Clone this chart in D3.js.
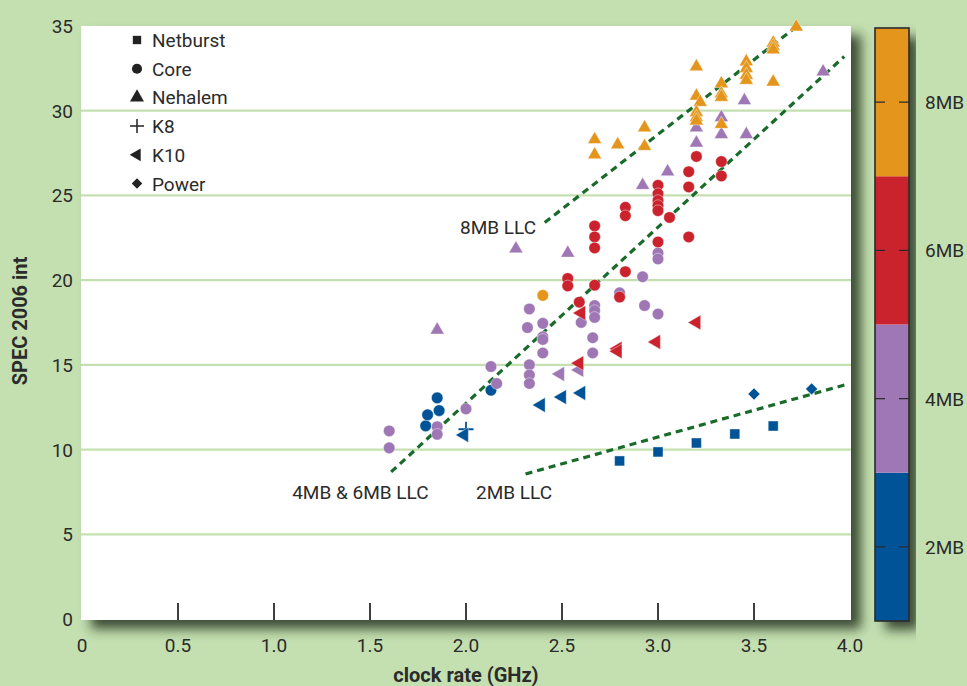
<!DOCTYPE html>
<html>
<head>
<meta charset="utf-8">
<script src="https://cdn.jsdelivr.net/npm/d3@7"></script>
<style>
  body { margin: 0; background: #c4e0b1; }
  svg { display: block; font-family: Roboto, "DejaVu Sans", sans-serif; }
</style>
</head>
<body>
<svg id="chart" width="967" height="686"></svg>
<script>
// [clock GHz, SPEC int, LLC MB]
const netburst = [[2.8, 9.33, 2], [3.0, 9.86, 2], [3.2, 10.39, 2], [3.4, 10.92, 2], [3.6, 11.39, 2]]
const core = [
  [1.79, 11.4, 2], [1.8, 12.05, 2], [1.86, 12.3, 2], [1.85, 13.05, 2], [2.13, 13.5, 2],
  [1.6, 11.1, 4], [1.6, 10.1, 4], [1.85, 11.35, 4], [1.85, 10.9, 4], [2.0, 12.4, 4],
  [2.13, 14.9, 4], [2.16, 13.9, 4], [2.33, 18.3, 4], [2.32, 17.2, 4], [2.33, 15.0, 4],
  [2.33, 14.4, 4], [2.33, 13.9, 4], [2.4, 17.45, 4], [2.4, 16.65, 4], [2.4, 16.5, 4],
  [2.4, 15.7, 4], [2.6, 17.5, 4], [2.67, 18.5, 4], [2.67, 18.2, 4], [2.67, 17.8, 4],
  [2.66, 16.6, 4], [2.66, 15.7, 4], [2.8, 19.25, 4], [2.92, 20.2, 4], [2.93, 18.5, 4],
  [3.0, 18.0, 4], [3.0, 21.6, 4], [3.0, 21.25, 4],
  [2.53, 20.1, 6], [2.53, 19.66, 6], [2.59, 18.7, 6], [2.67, 19.7, 6], [2.8, 19.0, 6],
  [2.83, 20.5, 6], [2.67, 23.2, 6], [2.67, 22.55, 6], [2.67, 21.9, 6], [2.83, 24.3, 6],
  [2.83, 23.8, 6], [3.0, 25.6, 6], [3.0, 25.1, 6], [3.0, 24.7, 6], [3.0, 24.4, 6],
  [3.0, 24.1, 6], [3.0, 22.25, 6], [3.06, 23.7, 6], [3.16, 26.4, 6], [3.16, 25.5, 6],
  [3.16, 22.55, 6], [3.2, 27.3, 6], [3.33, 27.0, 6], [3.33, 26.15, 6],
  [2.4, 19.1, 8]
]
const nehalem = [
  [1.85, 17.06, 4], [2.26, 21.85, 4], [2.53, 21.6, 4], [2.92, 25.6, 4], [3.05, 26.4, 4],
  [3.2, 28.1, 4], [3.2, 29.0, 4], [3.33, 29.6, 4], [3.33, 28.6, 4], [3.46, 28.6, 4],
  [3.45, 30.6, 4], [3.86, 32.3, 4],
  [2.67, 28.3, 8], [2.67, 27.4, 8], [2.79, 28.0, 8], [2.93, 29.0, 8], [2.93, 27.9, 8],
  [3.2, 32.6, 8], [3.2, 30.87, 8], [3.22, 30.5, 8], [3.2, 29.9, 8], [3.2, 29.6, 8],
  [3.2, 29.4, 8], [3.33, 31.6, 8], [3.33, 31.0, 8], [3.33, 30.8, 8], [3.33, 29.2, 8],
  [3.46, 32.9, 8], [3.46, 32.5, 8], [3.46, 32.1, 8], [3.46, 31.8, 8], [3.6, 34.0, 8],
  [3.6, 33.8, 8], [3.6, 33.6, 8], [3.6, 31.7, 8], [3.72, 34.95, 8]
]
const k8 = [[2.0, 11.2, 2]]
const k10 = [
  [1.99, 10.86, 2], [2.39, 12.63, 2], [2.5, 13.1, 2], [2.6, 13.34, 2],
  [2.49, 14.46, 4], [2.59, 14.7, 4],
  [2.59, 15.1, 6], [2.6, 18.06, 6], [2.79, 15.95, 6], [2.79, 15.8, 6], [2.99, 16.35, 6], [3.2, 17.5, 6]
]
const power = [[3.5, 13.28, 2], [3.8, 13.58, 2]]

const familyNames = ['Netburst', 'Core', 'Nehalem', 'K8', 'K10', 'Power']
const xTicks = [0.5, 1.0, 1.5, 2.0, 2.5, 3.0, 3.5]
const xLabels = [0, 0.5, 1.0, 1.5, 2.0, 2.5, 3.0, 3.5, 4.0]
const yTicks = [0, 5, 10, 15, 20, 25, 30, 35]
const cacheBands = [[1, 3], [3, 5], [5, 7], [7, 9]]
const cacheTicks = [2, 4, 6, 8]
const cacheColors = ['#005396', '#9e77b4', '#cb232d', '#e3961b']

// LLC trend lines
const trendNames = ['8MB LLC', '4MB & 6MB LLC', '2MB LLC']
const trendLines = [
  [[2.41, 23.4], [3.72, 34.95]],
  [[1.61, 8.68], [3.97, 33.2]],
  [[2.31, 8.56], [3.99, 13.87]]
]
const trendLabelPos = [[2.365, 22.7], [1.45, 7.1], [2.25, 7.1]]

let svg = d3.select('#chart')
let x = d3.scaleLinear().domain([0, 4]).range([82, 850])
let y = d3.scaleLinear().domain([0, 35]).range([619, 26])
let cy = d3.scaleLinear().domain([1, 9]).range([621, 28])
let colorOf = d3.scaleThreshold().domain([3, 5, 7]).range(cacheColors)

let defs = svg.append('defs')
let f = defs.append('filter').attr('id', 'shadow')
  .attr('x', '-10%').attr('y', '-10%').attr('width', '130%').attr('height', '130%')
f.append('feDropShadow').attr('dx', 10).attr('dy', 9).attr('stdDeviation', 6)
  .attr('flood-color', '#26321f').attr('flood-opacity', 0.85)

// plot panel
svg.append('rect')
  .attr('x', 81).attr('y', 26).attr('width', 770).attr('height', 594)
  .attr('fill', '#fff').attr('filter', 'url(#shadow)')

svg.append('g').selectAll('line')
  .data(yTicks.filter(d => d > 0 && d < 35))
  .join('line')
  .attr('x1', 81).attr('x2', 851)
  .attr('y1', d => y(d)).attr('y2', d => y(d))
  .attr('stroke', '#c4e0b1').attr('stroke-width', 2.2)

svg.append('g').selectAll('line')
  .data(xTicks)
  .join('line')
  .attr('x1', d => x(d)).attr('x2', d => x(d))
  .attr('y1', 620).attr('y2', 603)
  .attr('stroke', '#2b2b2b').attr('stroke-width', 1.8)

svg.append('g').selectAll('text')
  .data(xLabels)
  .join('text')
  .attr('x', d => x(d)).attr('y', 652)
  .attr('text-anchor', 'middle')
  .attr('font-size', 19).attr('fill', '#2b2b2b')
  .text(d => d === 0 ? '0' : d3.format('.1f')(d))

svg.append('g').selectAll('text')
  .data(yTicks)
  .join('text')
  .attr('x', 73).attr('y', d => y(d) + 7)
  .attr('text-anchor', 'end')
  .attr('font-size', 19).attr('fill', '#2b2b2b')
  .text(d => d)

svg.append('text')
  .attr('x', 466).attr('y', 682)
  .attr('text-anchor', 'middle')
  .attr('font-size', 20).attr('font-weight', 'bold').attr('fill', '#2b2b2b')
  .text('clock rate (GHz)')

svg.append('text')
  .attr('transform', 'translate(27,321) rotate(-90)')
  .attr('text-anchor', 'middle')
  .attr('font-size', 20).attr('font-weight', 'bold').attr('fill', '#2b2b2b')
  .text('SPEC 2006 int')

// trend lines
let line = d3.line().x(d => x(d[0])).y(d => y(d[1]))
svg.append('g').selectAll('path')
  .data(trendLines)
  .join('path')
  .attr('d', line)
  .attr('fill', 'none')
  .attr('stroke', '#1a6b2b').attr('stroke-width', 3.2)
  .attr('stroke-dasharray', '7,5')

svg.append('g').selectAll('text')
  .data(trendNames)
  .join('text')
  .attr('x', (d, i) => x(trendLabelPos[i][0]))
  .attr('y', (d, i) => y(trendLabelPos[i][1]))
  .attr('text-anchor', (d, i) => i === 0 ? 'end' : 'middle')
  .attr('font-size', 19).attr('fill', '#2b2b2b')
  .text(d => d)

// markers
const plusPath = s => {
  const r = s / 2
  return `M${-r},0H${r}M0,${-r}V${r}`
}
const families = [
  { data: netburst, sym: d3.symbol(d3.symbolSquare, 100), rot: 0 },
  { data: core, sym: d3.symbol(d3.symbolCircle, 105), rot: 0 },
  { data: nehalem, sym: d3.symbol(d3.symbolTriangle, 85), rot: 0 },
  { data: k8, sym: () => plusPath(15), rot: 0, stroke: true },
  { data: k10, sym: d3.symbol(d3.symbolTriangle, 95), rot: -90 },
  { data: power, sym: d3.symbol(d3.symbolSquare, 72), rot: 45 }
]

families.forEach(fam => {
  svg.append('g').selectAll('path')
    .data(fam.data)
    .join('path')
    .attr('d', fam.sym)
    .attr('transform', d => `translate(${x(d[0])},${y(d[1])}) rotate(${fam.rot})`)
    .attr('fill', d => fam.stroke ? 'none' : colorOf(d[2]))
    .attr('stroke', d => fam.stroke ? colorOf(d[2]) : '#fff')
    .attr('stroke-width', fam.stroke ? 1.8 : 0.7)
    .attr('stroke-opacity', fam.stroke ? 1 : 0.6)
})

// legend
const legendSyms = [
  d3.symbol(d3.symbolSquare, 70), d3.symbol(d3.symbolCircle, 80), d3.symbol(d3.symbolTriangle, 85),
  () => plusPath(14), d3.symbol(d3.symbolTriangle, 70), d3.symbol(d3.symbolSquare, 55)
]
const legendRot = [0, 0, 0, 0, -90, 45]
let legend = svg.append('g').selectAll('g')
  .data(familyNames)
  .join('g')
  .attr('transform', (d, i) => `translate(137,${40 + i * 28.7})`)
legend.append('path')
  .attr('d', (d, i) => legendSyms[i]())
  .attr('transform', (d, i) => `rotate(${legendRot[i]})`)
  .attr('fill', (d, i) => i === 3 ? 'none' : '#222')
  .attr('stroke', (d, i) => i === 3 ? '#222' : 'none')
  .attr('stroke-width', 1.5)
legend.append('text')
  .attr('x', 15).attr('y', 7)
  .attr('font-size', 19).attr('fill', '#2b2b2b')
  .text(d => d)

// cache size colour bar
let bar = svg.append('g')
bar.append('rect')
  .attr('x', 875).attr('y', cy(9)).attr('width', 34).attr('height', cy(1) - cy(9))
  .attr('fill', '#fff').attr('filter', 'url(#shadow)')
bar.selectAll('rect.band')
  .data(cacheBands)
  .join('rect')
  .attr('class', 'band')
  .attr('x', 875).attr('y', d => cy(d[1]))
  .attr('width', 34).attr('height', d => cy(d[0]) - cy(d[1]))
  .attr('fill', (d, i) => cacheColors[i])
bar.append('rect')
  .attr('x', 875).attr('y', cy(9)).attr('width', 34).attr('height', cy(1) - cy(9))
  .attr('fill', 'none').attr('stroke', '#2b2b2b').attr('stroke-width', 1.6)
bar.selectAll('path.tick')
  .data(cacheTicks)
  .join('path')
  .attr('class', 'tick')
  .attr('d', d => `M875,${cy(d)}h10M899,${cy(d)}h10`)
  .attr('stroke', '#2b2b2b').attr('stroke-width', 1.4)
bar.selectAll('text')
  .data(cacheTicks)
  .join('text')
  .attr('x', 925).attr('y', d => cy(d) + 7)
  .attr('font-size', 19).attr('fill', '#2b2b2b')
  .text(d => d + 'MB')
</script>
</body>
</html>
